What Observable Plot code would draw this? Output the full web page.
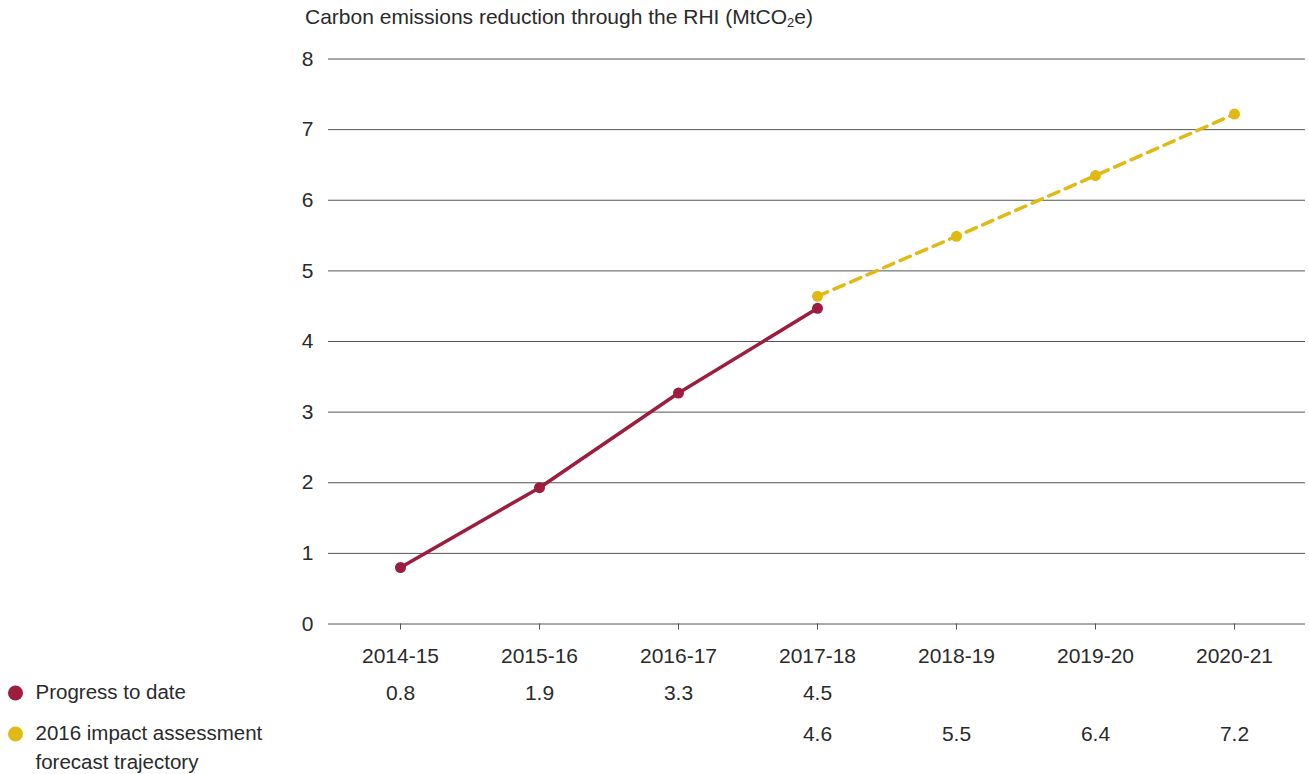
<!DOCTYPE html>
<html>
<head>
<meta charset="utf-8">
<script src="https://cdn.jsdelivr.net/npm/d3@7"></script>
<script src="https://cdn.jsdelivr.net/npm/@observablehq/plot@0.6"></script>
<style>
  html, body { margin: 0; padding: 0; background: #fff; }
  #wrap { position: relative; width: 1309px; height: 774px; font-family: "Liberation Sans", Arial, sans-serif; color: #2a2a2a; }
  #title { position: absolute; left: 305px; top: 5px; font-size: 21px; white-space: nowrap; }
  #title sub { font-size: 13px; vertical-align: -3px; line-height: 0; }
  #chart { position: absolute; left: 0; top: 0; }
</style>
</head>
<body>
<div id="wrap">
  <div id="chart"></div>
  <div id="title">Carbon emissions reduction through the RHI (MtCO<sub>2</sub>e)</div>
</div>
<script>
const years = ["2014-15", "2015-16", "2016-17", "2017-18", "2018-19", "2019-20", "2020-21"];
const progressYears = ["2014-15", "2015-16", "2016-17", "2017-18"];
const progressValues = [0.80, 1.93, 3.27, 4.47];
const progressLabels = ["0.8", "1.9", "3.3", "4.5"];
const forecastYears = ["2017-18", "2018-19", "2019-20", "2020-21"];
const forecastValues = [4.64, 5.49, 6.35, 7.22];
const forecastLabels = ["4.6", "5.5", "6.4", "7.2"];
const yTicks = [0, 1, 2, 3, 4, 5, 6, 7, 8];
const seriesNames = ["Progress to date", "2016 impact assessment", "forecast trajectory"];

const crimson = "#9c1d3f";
const gold = "#e1b914";
const ink = "#2a2a2a";

const progress = progressYears.map((y, i) => ({year: y, value: progressValues[i], label: progressLabels[i]}));
const forecast = forecastYears.map((y, i) => ({year: y, value: forecastValues[i], label: forecastLabels[i]}));

const fs = 21;
const chart = Plot.plot({
  width: 1309,
  height: 774,
  marginLeft: 328,
  marginRight: 4,
  marginTop: 58.5,
  marginBottom: 150.5,
  style: {fontFamily: "'Liberation Sans', Arial, sans-serif", fontSize: "21px", color: ink, background: "#fff"},
  x: {type: "point", domain: years, padding: 0.5},
  y: {domain: [0, 8]},
  marks: [
    Plot.gridY(yTicks, {stroke: "#555", strokeOpacity: 1, strokeWidth: 1}),
    Plot.axisY(yTicks, {tickSize: 0, tickPadding: 15, label: null, fontSize: fs, tickFormat: d3.format("d")}),
    Plot.axisX({tickSize: 6, tickPadding: 18, label: null, stroke: "#555", fontSize: fs}),
    Plot.line(forecast, {x: "year", y: "value", stroke: gold, strokeWidth: 3.5, strokeDasharray: "11,7"}),
    Plot.line(progress, {x: "year", y: "value", stroke: crimson, strokeWidth: 3.5}),
    Plot.dot(forecast, {x: "year", y: "value", fill: gold, r: 5.5}),
    Plot.dot(progress, {x: "year", y: "value", fill: crimson, r: 5.5}),
    // table rows
    Plot.text(progress, {x: "year", text: "label", frameAnchor: "bottom", dy: 76, fontSize: fs, fill: ink}),
    Plot.text(forecast, {x: "year", text: "label", frameAnchor: "bottom", dy: 117, fontSize: fs, fill: ink}),
    // legend
    Plot.dot([seriesNames[0]], {frameAnchor: "bottom-left", dx: -313, dy: 69, r: 7.5, fill: crimson}),
    Plot.dot([seriesNames[1]], {frameAnchor: "bottom-left", dx: -313, dy: 110, r: 7.5, fill: gold}),
    Plot.text([seriesNames[0]], {text: d => d, frameAnchor: "bottom-left", textAnchor: "start", dx: -293, dy: 75, fontSize: 20.5, fill: ink}),
    Plot.text([seriesNames[1]], {text: d => d, frameAnchor: "bottom-left", textAnchor: "start", dx: -293, dy: 116, fontSize: 20.5, fill: ink}),
    Plot.text([seriesNames[2]], {text: d => d, frameAnchor: "bottom-left", textAnchor: "start", dx: -293, dy: 145, fontSize: 20.5, fill: ink})
  ]
});
document.getElementById("chart").appendChild(chart);
</script>
</body>
</html>
